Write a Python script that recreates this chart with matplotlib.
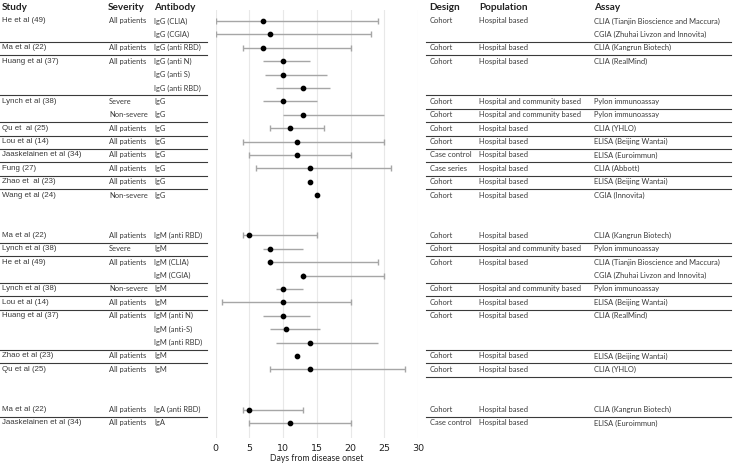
import numpy as np
import matplotlib.pyplot as plt
import matplotlib.transforms as mtransforms

# rows of the forest plot (blank string = continuation of the study above)
study = ["He et al (49)", "", "Ma et al (22)", "Huang et al (37)", "", "",
         "Lynch et al (38)", "", "Qu et  al (25)", "Lou et al (14)",
         "Jaaskelainen et al (34)", "Fung (27)", "Zhao et  al (23)", "Wang et al (24)",
         "Ma et al (22)", "Lynch et al (38)", "He et al (49)", "", "Lynch et al (38)",
         "Lou et al (14)", "Huang et al (37)", "", "", "Zhao et al (23)", "Qu et al (25)",
         "Ma et al (22)", "Jaaskelainen et al (34)"]
severity = ["All patients", "", "All patients", "All patients", "", "",
            "Severe", "Non-severe", "All patients", "All patients",
            "All patients", "All patients", "All patients", "Non-severe",
            "All patients", "Severe", "All patients", "", "Non-severe",
            "All patients", "All patients", "", "", "All patients", "All patients",
            "All patients", "All patients"]
antibody = ["IgG (CLIA)", "IgG (CGIA)", "IgG (anti RBD)", "IgG (anti N)", "IgG (anti S)",
            "IgG (anti RBD)", "IgG", "IgG", "IgG", "IgG", "IgG", "IgG", "IgG", "IgG",
            "IgM (anti RBD)", "IgM", "IgM (CLIA)", "IgM (CGIA)", "IgM", "IgM",
            "IgM (anti N)", "IgM (anti-S)", "IgM (anti RBD)", "IgM", "IgM",
            "IgA (anti RBD)", "IgA"]
design = ["Cohort", "", "Cohort", "Cohort", "", "", "Cohort", "Cohort", "Cohort", "Cohort",
          "Case control", "Case series", "Cohort", "Cohort",
          "Cohort", "Cohort", "Cohort", "", "Cohort", "Cohort", "Cohort", "", "",
          "Cohort", "Cohort", "Cohort", "Case control"]
HB = "Hospital based"
HCB = "Hospital and community based"
population = [HB, "", HB, HB, "", "", HCB, HCB, HB, HB, HB, HB, HB, HB,
              HB, HCB, HB, "", HCB, HB, HB, "", "", HB, HB, HB, HB]
assay = ["CLIA (Tianjin Bioscience and Maccura)", "CGIA (Zhuhai Livzon and Innovita)",
         "CLIA (Kangrun Biotech)", "CLIA (RealMind)", "", "",
         "Pylon immunoassay", "Pylon immunoassay", "CLIA (YHLO)", "ELISA (Beijing Wantai)",
         "ELISA (Euroimmun)", "CLIA (Abbott)", "ELISA (Beijing Wantai)", "CGIA (Innovita)",
         "CLIA (Kangrun Biotech)", "Pylon immunoassay", "CLIA (Tianjin Bioscience and Maccura)",
         "CGIA (Zhuhai Livzon and Innovita)", "Pylon immunoassay", "ELISA (Beijing Wantai)",
         "CLIA (RealMind)", "", "", "ELISA (Beijing Wantai)", "CLIA (YHLO)",
         "CLIA (Kangrun Biotech)", "ELISA (Euroimmun)"]

# days from disease onset: point estimate and range
point = [7, 8, 7, 10, 10, 13, 10, 13, 11, 12, 12, 14, 14, 15,
         5, 8, 8, 13, 10, 10, 10, 10.5, 14, 12, 14,
         5, 11]
lower = [0, 0, 4, 7, 7.3, 9, 7, 10, 8, 4, 5, 6, np.nan, np.nan,
         4, 7, 8, 13, 9, 1, 7, 8, 9, np.nan, 8,
         4, 5]
upper = [24, 23, 20, 14, 16.5, 17, 15, 25, 16, 25, 20, 26, np.nan, np.nan,
         15, 13, 24, 25, 13, 20, 14, 15.5, 24, np.nan, 28,
         13, 20]
capped = [1, 1, 1, 0, 0, 0, 0, 0, 1, 1, 1, 1, 0, 0,
          1, 0, 1, 1, 0, 1, 0, 0, 0, 0, 1,
          1, 1]

# row slots (IgG, gap, IgM, gap, IgA)
slot = list(range(0, 14)) + list(range(16, 27)) + [29, 30]
left_rules = [1, 2, 5, 7, 8, 9, 10, 11, 12, 16, 17, 19, 20, 21, 24, 25, 29]
right_rules = [1, 2, 5, 6, 7, 8, 9, 10, 11, 12, 16, 17, 19, 20, 21, 24, 25, 26, 29]

W, H = 733, 465
fig = plt.figure(figsize=(W / 100, H / 100), dpi=100)
ax = fig.add_axes([215.5 / W, 1 - 438 / H, 202.5 / W, 428 / H])

point = np.array(point, float)
lower = np.array(lower, float)
upper = np.array(upper, float)
capped = np.array(capped, bool)
y = np.array(slot, float)
has = ~np.isnan(lower)

for sel, cs in [(has & capped, 2.5), (has & ~capped, 0)]:
    ax.errorbar(point[sel], y[sel], xerr=[point[sel] - lower[sel], upper[sel] - point[sel]],
                fmt='none', ecolor='#a6a6a6', elinewidth=1.0, capsize=cs, capthick=1.0)
ax.plot(point, y, 'o', color='black', markersize=3.1, zorder=3)

ax.set_xlim(0, 30)
ax.set_ylim(31.12, -0.82)
ax.set_xticks(range(0, 31, 5))
ax.set_yticks([])
ax.grid(axis='x', color='#e8e8e8', linewidth=0.8)
ax.set_axisbelow(True)
for s in ax.spines.values():
    s.set_visible(False)
ax.tick_params(axis='x', length=0, pad=4.5, labelsize=6.8, labelcolor='#222222')
ax.set_xlabel('Days from disease onset', fontsize=6.2, labelpad=0.5, family='Lato',
              color='#222222')

tr = mtransforms.blended_transform_factory(fig.transFigure, ax.transData)
calib = 'Lato'
hdr = dict(transform=tr, fontsize=7.2, fontweight='bold', family=calib, va='center',
           color='#222222')
ax.text(2 / W, -1, 'Study', **hdr)
ax.text(108 / W, -1, 'Severity', **hdr)
ax.text(154 / W, -1, 'Antibody', **hdr)
ax.text(429 / W, -1, 'Design', **hdr)
ax.text(479 / W, -1, 'Population', **hdr)
ax.text(594 / W, -1, 'Assay', **hdr)

kw = dict(transform=tr, va='center', color='#3a3a3a', clip_on=False)
for i, s in enumerate(slot):
    ax.text(2 / W, s, study[i], fontsize=5.7, family='Liberation Sans', **kw)
    ax.text(109 / W, s, severity[i], fontsize=5.4, family=calib, **kw)
    ax.text(154 / W, s, antibody[i], fontsize=5.4, family=calib, **kw)
    ax.text(430 / W, s, design[i], fontsize=5.4, family=calib, **kw)
    ax.text(479 / W, s, population[i], fontsize=5.4, family=calib, **kw)
    ax.text(594 / W, s, assay[i], fontsize=5.4, family=calib, **kw)

for r in left_rules:
    ax.plot([0, 207 / W], [r + 0.55, r + 0.55], transform=tr, color='#3a3a3a',
            lw=0.8, clip_on=False)
for r in right_rules:
    ax.plot([426 / W, 731 / W], [r + 0.55, r + 0.55], transform=tr, color='#3a3a3a',
            lw=0.8, clip_on=False)

fig.savefig('out.png', dpi=100)
